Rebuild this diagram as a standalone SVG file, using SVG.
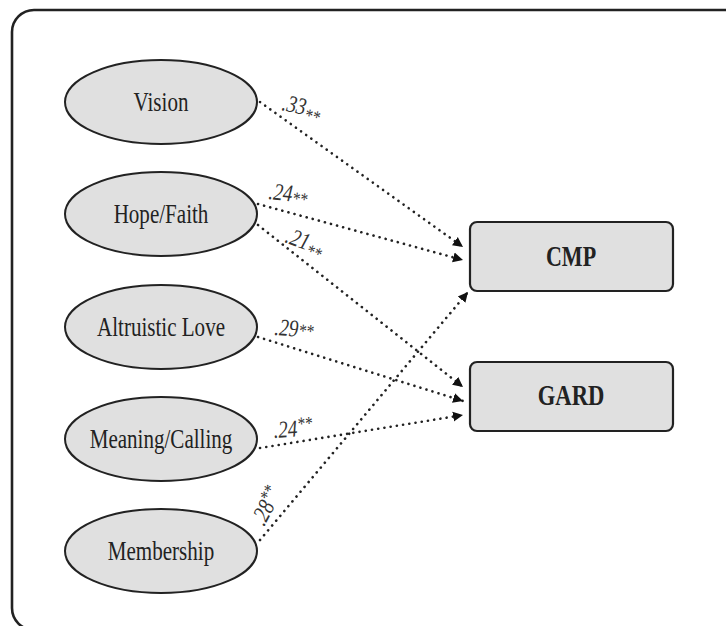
<svg xmlns="http://www.w3.org/2000/svg" width="726" height="626" viewBox="0 0 726 626">
<style>
.frame{fill:#fff;stroke:#222;stroke-width:2.6}
.ell{fill:#e0e0e0;stroke:#222;stroke-width:2}
.box{fill:#e0e0e0;stroke:#222;stroke-width:2.2}
.nt{font-family:"Liberation Serif","Times New Roman",serif;font-size:27px;fill:#222;text-anchor:middle}
.bt{font-family:"Liberation Serif","Times New Roman",serif;font-size:29px;font-weight:bold;fill:#222;text-anchor:middle}
.lb{font-family:"Liberation Serif","Times New Roman",serif;font-size:24px;font-style:italic;fill:#333}
.st{font-size:19px}
.cn{fill:none;stroke:#222;stroke-width:2.6;stroke-dasharray:0.1 6.2;stroke-linecap:round}
</style>
<defs>
<marker id="ah" markerUnits="userSpaceOnUse" markerWidth="12" markerHeight="12" refX="10" refY="5" orient="auto" viewBox="0 0 12 10">
<path d="M0,0 L10,5 L0,10 Z" fill="#111"/>
</marker>
</defs>
<rect class="frame" x="12" y="10" width="740" height="620" rx="22"/>
<g id="connectors">
<path class="cn" d="M260,102 L463,247" marker-end="url(#ah)"/>
<path class="cn" d="M258,204 L463,260" marker-end="url(#ah)"/>
<path class="cn" d="M258,225 L463,387" marker-end="url(#ah)"/>
<path class="cn" d="M258,337 L463,401" marker-end="url(#ah)"/>
<path class="cn" d="M260,448 L463,415" marker-end="url(#ah)"/>
<path class="cn" d="M260,540 L468,292" marker-end="url(#ah)"/>
</g>
<g id="labels">
<text class="lb" transform="translate(281,110) rotate(12) scale(0.8,1)">.33<tspan class="st" dy="6">**</tspan></text>
<text class="lb" transform="translate(268,199) rotate(6) scale(0.8,1)">.24<tspan class="st" dy="3">**</tspan></text>
<text class="lb" transform="translate(284,242) rotate(20) scale(0.8,1)">.21<tspan class="st" dy="6">**</tspan></text>
<text class="lb" transform="translate(274,335) rotate(4) scale(0.8,1)">.29<tspan class="st" dy="0">**</tspan></text>
<text class="lb" transform="translate(274,438) rotate(-4) scale(0.8,1)">.24<tspan class="st" dy="-6">**</tspan></text>
<text class="lb" transform="translate(264,527) rotate(-62) scale(0.8,1)">.28<tspan class="st" dy="-6">**</tspan></text>
</g>
<g id="vision">
<ellipse class="ell" cx="161" cy="102" rx="96" ry="42"/>
<text class="nt" transform="translate(161,111) scale(0.78,1)">Vision</text>
</g>
<g id="hope-faith">
<ellipse class="ell" cx="161" cy="214" rx="96" ry="42"/>
<text class="nt" transform="translate(161,223) scale(0.78,1)">Hope/Faith</text>
</g>
<g id="altruistic-love">
<ellipse class="ell" cx="161" cy="327" rx="96" ry="42"/>
<text class="nt" transform="translate(161,336) scale(0.78,1)">Altruistic Love</text>
</g>
<g id="meaning-calling">
<ellipse class="ell" cx="161" cy="439" rx="96" ry="42"/>
<text class="nt" transform="translate(161,448) scale(0.78,1)">Meaning/Calling</text>
</g>
<g id="membership">
<ellipse class="ell" cx="161" cy="551" rx="96" ry="42"/>
<text class="nt" transform="translate(161,560) scale(0.78,1)">Membership</text>
</g>
<g id="cmp">
<rect class="box" x="470" y="222" width="203" height="69" rx="7"/>
<text class="bt" transform="translate(571,266) scale(0.76,1)">CMP</text>
</g>
<g id="gard">
<rect class="box" x="470" y="362" width="203" height="69" rx="7"/>
<text class="bt" transform="translate(571,405) scale(0.78,1)">GARD</text>
</g>
</svg>
